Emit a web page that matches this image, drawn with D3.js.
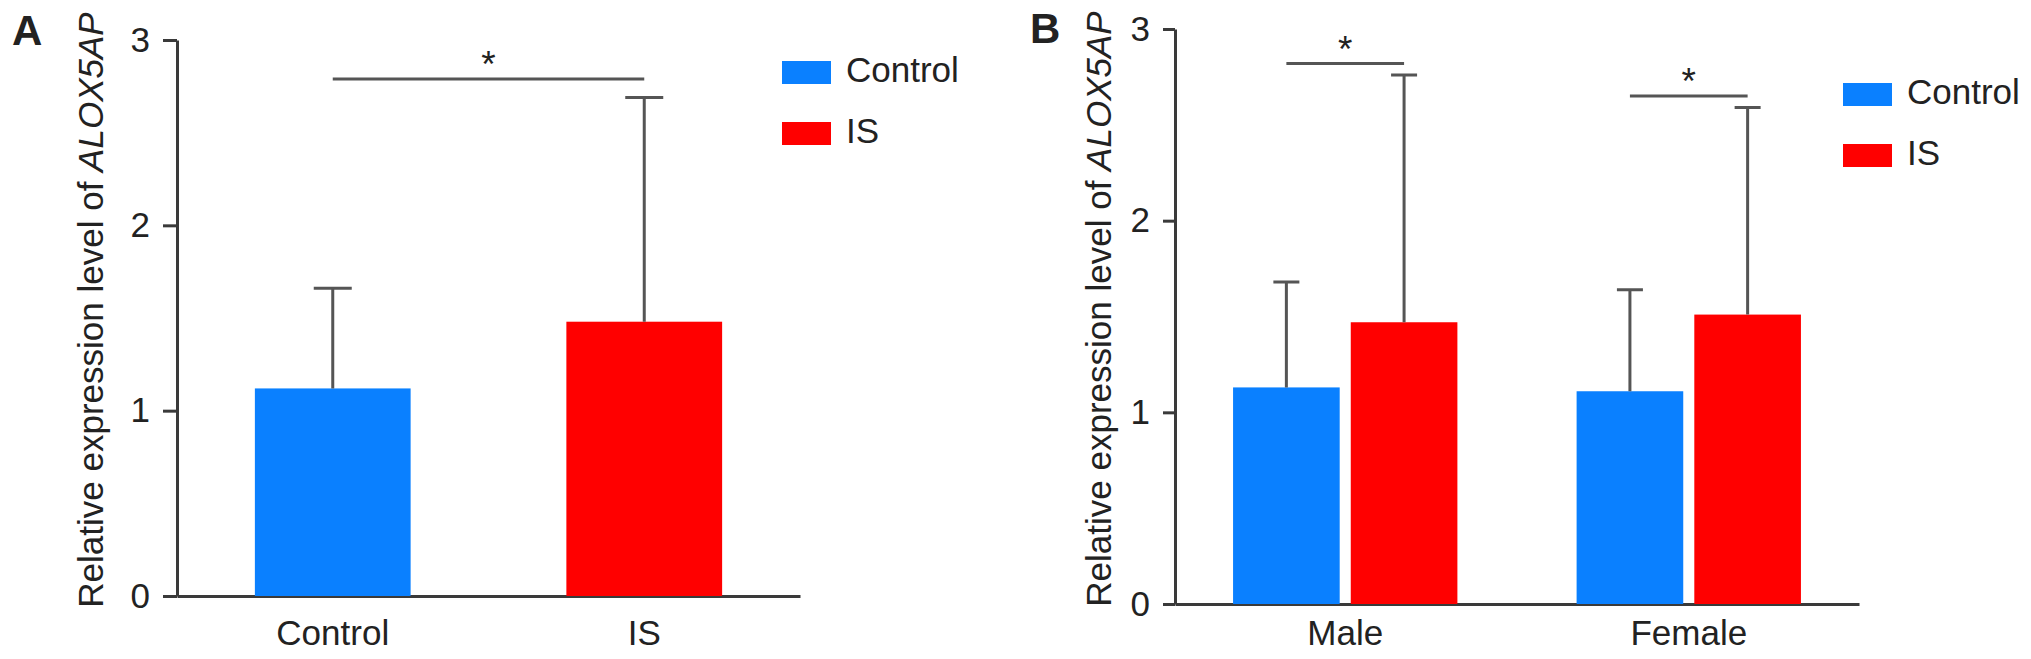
<html>
<head>
<script src="https://d3js.org/d3.v7.min.js"></script>
<style>
body { margin: 0; background: #fff; }
text { font-family: "Liberation Sans", Arial, Helvetica, sans-serif; fill: #222; }
.axis path, .axis line { stroke: #3a3a3a; stroke-width: 3; }
.axis text { font-size: 35px; fill: #222; }
.err, .sig { stroke: #555; stroke-width: 3; fill: none; }
</style>
</head>
<body>
<script>

// ---- data ----
var seriesNames = ["Control", "IS"];
var seriesColors = ["#0a80ff", "#ff0000"];
var yTicks = [0, 1, 2, 3];

// panel A
var groupsA = ["Control", "IS"];
var meanA = [1.12, 1.48];
var sdA = [0.54, 1.21];
var sigA_y = 2.79;

// panel B
var groupsB = ["Male", "Female"];
var meanB_control = [1.13, 1.11];
var meanB_is = [1.47, 1.51];
var sdB_control = [0.55, 0.53];
var sdB_is = [1.29, 1.08];
var sigB_y = [2.82, 2.65];

var W = 2031, H = 659;
var svg = d3.select("body").append("svg")
    .attr("width", W)
    .attr("height", H);

function yTitle(g, x, yMid) {
  var t = g.append("text")
      .attr("transform", "translate(" + x + "," + yMid + ") rotate(-90)")
      .attr("text-anchor", "middle")
      .style("font-size", "35px");
  t.append("tspan").text("Relative expression level of ");
  t.append("tspan").style("font-style", "italic").text("ALOX5AP");
}

function legend(g, x, y0, gap) {
  seriesNames.forEach(function(name, i) {
    g.append("rect")
        .attr("x", x).attr("y", y0 + i * gap)
        .attr("width", 49).attr("height", 23)
        .attr("fill", seriesColors[i]);
    g.append("text")
        .attr("x", x + 64).attr("y", y0 + i * gap + 12)
        .attr("dominant-baseline", "middle")
        .style("font-size", "35px")
        .text(name);
  });
}

function star(g, x, y) {
  g.append("text")
      .attr("x", x).attr("y", y)
      .attr("text-anchor", "middle")
      .style("font-size", "37px")
      .text("*");
}

// ================= panel A =================
var yA = d3.scaleLinear().domain([0, 3]).range([596, 40]);
var xA = d3.scaleBand().domain(groupsA).range([177, 800])
    .paddingInner(0.5).paddingOuter(0.25);

var gA = svg.append("g");

gA.append("g")
    .attr("class", "axis")
    .attr("transform", "translate(177,0)")
    .call(d3.axisLeft(yA).tickValues(yTicks).tickFormat(d3.format("d"))
      .tickSize(14).tickSizeOuter(0).tickPadding(13));

gA.append("g")
    .attr("class", "axis")
    .attr("transform", "translate(0,596)")
    .call(d3.axisBottom(xA).tickSize(0).tickSizeOuter(0).tickPadding(24));

gA.selectAll(".bar")
    .data(groupsA)
  .enter().append("rect")
    .attr("x", function(d) { return xA(d); })
    .attr("width", xA.bandwidth())
    .attr("y", function(d, i) { return yA(meanA[i]); })
    .attr("height", function(d, i) { return yA(0) - yA(meanA[i]); })
    .attr("fill", function(d, i) { return seriesColors[i]; });

groupsA.forEach(function(d, i) {
  var cx = xA(d) + xA.bandwidth() / 2;
  gA.append("path").attr("class", "err")
      .attr("d", "M" + cx + "," + yA(meanA[i]) + "V" + yA(meanA[i] + sdA[i]) +
                 "M" + (cx - 19) + "," + yA(meanA[i] + sdA[i]) + "H" + (cx + 19));
});

var a1 = xA("Control") + xA.bandwidth() / 2, a2 = xA("IS") + xA.bandwidth() / 2;
gA.append("path").attr("class", "sig")
    .attr("d", "M" + a1 + "," + yA(sigA_y) + "H" + a2);
star(gA, (a1 + a2) / 2, yA(sigA_y) - 2);

yTitle(gA, 103, 310);
legend(gA, 782, 61, 61);
gA.append("text").attr("x", 12).attr("y", 45)
    .style("font-size", "42px").style("font-weight", "bold").text("A");

// ================= panel B =================
var yB = d3.scaleLinear().domain([0, 3]).range([604, 29]);
var xB = d3.scaleBand().domain(groupsB).range([1175, 1859])
    .paddingInner(0.347).paddingOuter(0.169);
var xSub = d3.scaleBand().domain(seriesNames).range([0, xB.bandwidth()])
    .paddingInner(0.094);

var gB = svg.append("g");

gB.append("g")
    .attr("class", "axis")
    .attr("transform", "translate(1175,0)")
    .call(d3.axisLeft(yB).tickValues(yTicks).tickFormat(d3.format("d"))
      .tickSize(12).tickSizeOuter(0).tickPadding(13));

gB.append("g")
    .attr("class", "axis")
    .attr("transform", "translate(0,604)")
    .call(d3.axisBottom(xB).tickSize(0).tickSizeOuter(0).tickPadding(16));

var barsB = [];
groupsB.forEach(function(g, i) {
  barsB.push({group: g, s: 0, mean: meanB_control[i], sd: sdB_control[i]});
  barsB.push({group: g, s: 1, mean: meanB_is[i], sd: sdB_is[i]});
});

gB.selectAll(".bar")
    .data(barsB)
  .enter().append("rect")
    .attr("x", function(d) { return xB(d.group) + xSub(seriesNames[d.s]); })
    .attr("width", xSub.bandwidth())
    .attr("y", function(d) { return yB(d.mean); })
    .attr("height", function(d) { return yB(0) - yB(d.mean); })
    .attr("fill", function(d) { return seriesColors[d.s]; });

barsB.forEach(function(d) {
  var cx = xB(d.group) + xSub(seriesNames[d.s]) + xSub.bandwidth() / 2;
  gB.append("path").attr("class", "err")
      .attr("d", "M" + cx + "," + yB(d.mean) + "V" + yB(d.mean + d.sd) +
                 "M" + (cx - 13) + "," + yB(d.mean + d.sd) + "H" + (cx + 13));
});

groupsB.forEach(function(g, i) {
  var b1 = xB(g) + xSub("Control") + xSub.bandwidth() / 2;
  var b2 = xB(g) + xSub("IS") + xSub.bandwidth() / 2;
  gB.append("path").attr("class", "sig")
      .attr("d", "M" + b1 + "," + yB(sigB_y[i]) + "H" + b2);
  star(gB, (b1 + b2) / 2, yB(sigB_y[i]) - 2);
});

yTitle(gB, 1111, 309);
legend(gB, 1843, 83, 61);
gB.append("text").attr("x", 1030).attr("y", 43)
    .style("font-size", "42px").style("font-weight", "bold").text("B");

</script>
</body>
</html>
